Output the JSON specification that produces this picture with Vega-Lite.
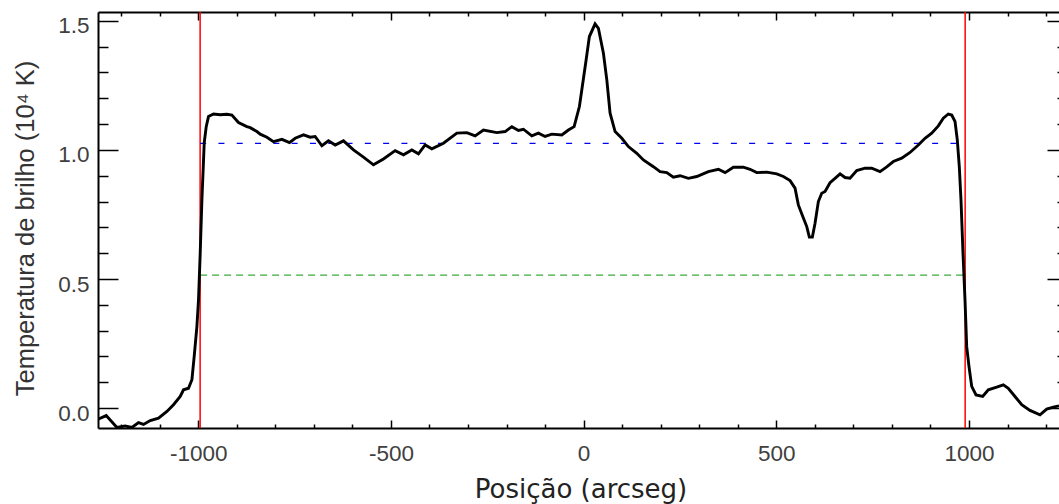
{
  "$schema": "https://vega.github.io/schema/vega-lite/v6.json",
  "usermeta": {"embedOptions": {"actions": false}},
  "width": 961,
  "height": 416,
  "autosize": {"type": "none"},
  "padding": {"left": 98, "top": 12, "right": 0, "bottom": 76},
  "background": "white",
  "config": {"view": {"stroke": null}, "axis": {"grid": false}},
  "datasets": {
    "perfil": [
      {"posicao": -1260, "tb": -0.043},
      {"posicao": -1238.7, "tb": -0.029},
      {"posicao": -1210.9, "tb": -0.075},
      {"posicao": -1189.4, "tb": -0.069},
      {"posicao": -1172, "tb": -0.075},
      {"posicao": -1154.9, "tb": -0.056},
      {"posicao": -1141.9, "tb": -0.063},
      {"posicao": -1124.5, "tb": -0.048},
      {"posicao": -1103, "tb": -0.039},
      {"posicao": -1081.2, "tb": -0.013},
      {"posicao": -1064.1, "tb": 0.013},
      {"posicao": -1046.7, "tb": 0.045},
      {"posicao": -1038.1, "tb": 0.071},
      {"posicao": -1025.2, "tb": 0.077},
      {"posicao": -1016.3, "tb": 0.11},
      {"posicao": -1010.4, "tb": 0.2},
      {"posicao": -1003.4, "tb": 0.316},
      {"posicao": -999.2, "tb": 0.419},
      {"posicao": -994.8, "tb": 0.6},
      {"posicao": -990.4, "tb": 0.806},
      {"posicao": -984.4, "tb": 1.027},
      {"posicao": -979.2, "tb": 1.09},
      {"posicao": -973.3, "tb": 1.129},
      {"posicao": -960.3, "tb": 1.139},
      {"posicao": -942.9, "tb": 1.136},
      {"posicao": -925.6, "tb": 1.138},
      {"posicao": -912.6, "tb": 1.135},
      {"posicao": -895.5, "tb": 1.106},
      {"posicao": -873.7, "tb": 1.09},
      {"posicao": -865.1, "tb": 1.086},
      {"posicao": -847.7, "tb": 1.071},
      {"posicao": -839.2, "tb": 1.061},
      {"posicao": -821.8, "tb": 1.049},
      {"posicao": -804.7, "tb": 1.032},
      {"posicao": -782.9, "tb": 1.041},
      {"posicao": -763.2, "tb": 1.028},
      {"posicao": -748.4, "tb": 1.045},
      {"posicao": -726.8, "tb": 1.058},
      {"posicao": -709.5, "tb": 1.049},
      {"posicao": -696.5, "tb": 1.052},
      {"posicao": -679.1, "tb": 1.016},
      {"posicao": -662, "tb": 1.035},
      {"posicao": -644.6, "tb": 1.019},
      {"posicao": -623.1, "tb": 1.035},
      {"posicao": -597.1, "tb": 1.0},
      {"posicao": -571.2, "tb": 0.972},
      {"posicao": -545.3, "tb": 0.942},
      {"posicao": -519.3, "tb": 0.965},
      {"posicao": -489, "tb": 0.997},
      {"posicao": -467.4, "tb": 0.981},
      {"posicao": -445.7, "tb": 1.0},
      {"posicao": -428.5, "tb": 0.985},
      {"posicao": -411.2, "tb": 1.019},
      {"posicao": -393.8, "tb": 1.004},
      {"posicao": -363.7, "tb": 1.026},
      {"posicao": -328.9, "tb": 1.065},
      {"posicao": -303, "tb": 1.067},
      {"posicao": -281.5, "tb": 1.054},
      {"posicao": -259.9, "tb": 1.077},
      {"posicao": -225.2, "tb": 1.067},
      {"posicao": -203.6, "tb": 1.071},
      {"posicao": -186.3, "tb": 1.09},
      {"posicao": -169.1, "tb": 1.075},
      {"posicao": -156.2, "tb": 1.08},
      {"posicao": -134.4, "tb": 1.054},
      {"posicao": -117.3, "tb": 1.065},
      {"posicao": -99.9, "tb": 1.052},
      {"posicao": -82.5, "tb": 1.061},
      {"posicao": -56.5, "tb": 1.058},
      {"posicao": -39.4, "tb": 1.077},
      {"posicao": -24.6, "tb": 1.09},
      {"posicao": -10.9, "tb": 1.168},
      {"posicao": -4.7, "tb": 1.232},
      {"posicao": 6.5, "tb": 1.348},
      {"posicao": 15, "tb": 1.439},
      {"posicao": 29.8, "tb": 1.488},
      {"posicao": 38.4, "tb": 1.471},
      {"posicao": 51.4, "tb": 1.374},
      {"posicao": 60.2, "tb": 1.271},
      {"posicao": 68.7, "tb": 1.142},
      {"posicao": 81.7, "tb": 1.071},
      {"posicao": 99.1, "tb": 1.045},
      {"posicao": 116.2, "tb": 1.013},
      {"posicao": 138, "tb": 0.987},
      {"posicao": 155.1, "tb": 0.961},
      {"posicao": 181.1, "tb": 0.935},
      {"posicao": 198.4, "tb": 0.916},
      {"posicao": 215.8, "tb": 0.912},
      {"posicao": 232.9, "tb": 0.894},
      {"posicao": 250.3, "tb": 0.9},
      {"posicao": 271.9, "tb": 0.89},
      {"posicao": 293.6, "tb": 0.897},
      {"posicao": 323.7, "tb": 0.916},
      {"posicao": 349.7, "tb": 0.925},
      {"posicao": 367.1, "tb": 0.912},
      {"posicao": 388.6, "tb": 0.933},
      {"posicao": 414.5, "tb": 0.933},
      {"posicao": 431.9, "tb": 0.925},
      {"posicao": 449.3, "tb": 0.912},
      {"posicao": 475.2, "tb": 0.914},
      {"posicao": 501.2, "tb": 0.907},
      {"posicao": 518.3, "tb": 0.897},
      {"posicao": 535.7, "tb": 0.881},
      {"posicao": 548.6, "tb": 0.852},
      {"posicao": 557.2, "tb": 0.787},
      {"posicao": 570.2, "tb": 0.736},
      {"posicao": 579, "tb": 0.703},
      {"posicao": 585.7, "tb": 0.662},
      {"posicao": 593.5, "tb": 0.662},
      {"posicao": 600.5, "tb": 0.716},
      {"posicao": 609.1, "tb": 0.8},
      {"posicao": 617.9, "tb": 0.832},
      {"posicao": 626.5, "tb": 0.839},
      {"posicao": 639.4, "tb": 0.873},
      {"posicao": 652.4, "tb": 0.89},
      {"posicao": 665.4, "tb": 0.907},
      {"posicao": 678.3, "tb": 0.893},
      {"posicao": 691.3, "tb": 0.89},
      {"posicao": 708.7, "tb": 0.92},
      {"posicao": 730.2, "tb": 0.929},
      {"posicao": 747.6, "tb": 0.929},
      {"posicao": 769.1, "tb": 0.916},
      {"posicao": 786.5, "tb": 0.934},
      {"posicao": 803.6, "tb": 0.955},
      {"posicao": 825.4, "tb": 0.968},
      {"posicao": 847, "tb": 0.99},
      {"posicao": 868.5, "tb": 1.019},
      {"posicao": 885.9, "tb": 1.045},
      {"posicao": 903.2, "tb": 1.065},
      {"posicao": 920.4, "tb": 1.093},
      {"posicao": 933.3, "tb": 1.123},
      {"posicao": 946.3, "tb": 1.139},
      {"posicao": 955.1, "tb": 1.135},
      {"posicao": 963.7, "tb": 1.11},
      {"posicao": 969.6, "tb": 1.039},
      {"posicao": 974.8, "tb": 0.935},
      {"posicao": 979.2, "tb": 0.806},
      {"posicao": 984.4, "tb": 0.6},
      {"posicao": 989.6, "tb": 0.419},
      {"posicao": 994, "tb": 0.238},
      {"posicao": 1000, "tb": 0.161},
      {"posicao": 1007, "tb": 0.084},
      {"posicao": 1018.2, "tb": 0.051},
      {"posicao": 1035.5, "tb": 0.045},
      {"posicao": 1050.1, "tb": 0.071},
      {"posicao": 1071.9, "tb": 0.081},
      {"posicao": 1089, "tb": 0.09},
      {"posicao": 1101.9, "tb": 0.077},
      {"posicao": 1119.3, "tb": 0.045},
      {"posicao": 1136.7, "tb": 0.013},
      {"posicao": 1158.2, "tb": -0.009},
      {"posicao": 1184.2, "tb": -0.026},
      {"posicao": 1201.6, "tb": -0.004},
      {"posicao": 1218.7, "tb": 0.004},
      {"posicao": 1233.5, "tb": 0.009}
    ],
    "niveis": [
      {"nivel": "media", "inicio": -995, "fim": 990, "valor": 1.025},
      {"nivel": "metade", "inicio": -995, "fim": 990, "valor": 0.515}
    ],
    "limbo": [
      {"posicao": -995},
      {"posicao": 990}
    ]
  },
  "layer": [
    {
      "data": {"name": "limbo"},
      "mark": {"type": "rule", "color": "#ff0000", "strokeWidth": 1.5, "clip": true},
      "encoding": {
        "x": {
          "field": "posicao", "type": "quantitative",
          "scale": {"domain": [-1260, 1233.5], "nice": false, "zero": false},
          "axis": null
        }
      }
    },
    {
      "data": {"name": "niveis"},
      "transform": [{"filter": "datum.nivel === 'metade'"}],
      "mark": {"type": "rule", "color": "#3aaa3a", "strokeWidth": 1.3, "strokeDash": [7, 5], "clip": true},
      "encoding": {
        "x": {"field": "inicio", "type": "quantitative", "scale": {"domain": [-1260, 1233.5], "nice": false, "zero": false}, "axis": null},
        "x2": {"field": "fim"},
        "y": {"field": "valor", "type": "quantitative", "scale": {"domain": [-0.077, 1.534], "nice": false, "zero": false}, "axis": null}
      }
    },
    {
      "data": {"name": "niveis"},
      "transform": [{"filter": "datum.nivel === 'media'"}],
      "mark": {"type": "rule", "color": "#0000ee", "strokeWidth": 1.3, "strokeDash": [6, 12.3], "clip": true},
      "encoding": {
        "x": {
          "field": "inicio", "type": "quantitative",
          "scale": {"domain": [-1260, 1233.5], "nice": false, "zero": false},
          "axis": {
            "orient": "top", "title": null, "labels": false,
            "values": [-1200, -1100, -1000, -900, -800, -700, -600, -500, -400, -300, -200, -100, 0, 100, 200, 300, 400, 500, 600, 700, 800, 900, 1000, 1100, 1200],
            "tickSize": {"condition": {"test": "datum.value % 500 === 0", "value": -8}, "value": -4},
            "tickColor": "black", "tickWidth": 1.5,
            "domainColor": "black", "domainWidth": 2
          }
        },
        "x2": {"field": "fim"},
        "y": {
          "field": "valor", "type": "quantitative",
          "scale": {"domain": [-0.077, 1.534], "nice": false, "zero": false},
          "axis": {
            "orient": "right", "title": null, "labels": false, "offset": 8,
            "values": [0, 0.1, 0.2, 0.3, 0.4, 0.5, 0.6, 0.7, 0.8, 0.9, 1.0, 1.1, 1.2, 1.3, 1.4, 1.5],
            "tickSize": {"condition": {"test": "abs(datum.value * 2 - round(datum.value * 2)) < 0.001", "value": -20}, "value": -10},
            "tickColor": "black", "tickWidth": 1.5,
            "domainColor": "black", "domainWidth": 2
          }
        }
      }
    },
    {
      "data": {"name": "perfil"},
      "mark": {"type": "line", "color": "black", "strokeWidth": 2.9, "clip": true},
      "encoding": {
        "x": {
          "field": "posicao", "type": "quantitative",
          "scale": {"domain": [-1260, 1233.5], "nice": false, "zero": false},
          "axis": {
            "orient": "bottom",
            "title": "Posição (arcseg)",
            "values": [-1200, -1100, -1000, -900, -800, -700, -600, -500, -400, -300, -200, -100, 0, 100, 200, 300, 400, 500, 600, 700, 800, 900, 1000, 1100, 1200],
            "labelExpr": "datum.value % 500 === 0 ? toString(datum.value) : ''",
            "tickSize": {"condition": {"test": "datum.value % 500 === 0", "value": -8}, "value": -4},
            "tickColor": "black", "tickWidth": 1.5,
            "domainColor": "black", "domainWidth": 2,
            "labelFont": "Liberation Sans", "labelFontSize": 22.5, "labelColor": "#404040",
            "labelPadding": 22.7, "labelFlush": false, "labelOverlap": false,
            "titleFont": "DejaVu Sans", "titleFontSize": 26, "titleFontWeight": "normal", "titleColor": "#222222",
            "titleX": 482.5, "titleY": 69.7, "titleBaseline": "alphabetic", "titleAlign": "center", "titleAnchor": null
          }
        },
        "y": {
          "field": "tb", "type": "quantitative",
          "scale": {"domain": [-0.077, 1.534], "nice": false, "zero": false},
          "axis": {
            "orient": "left",
            "title": "Temperatura de brilho (10⁴ K)",
            "values": [0, 0.1, 0.2, 0.3, 0.4, 0.5, 0.6, 0.7, 0.8, 0.9, 1.0, 1.1, 1.2, 1.3, 1.4, 1.5],
            "labelExpr": "abs(datum.value * 2 - round(datum.value * 2)) < 0.001 ? format(datum.value, '.1f') : ''",
            "tickSize": {"condition": {"test": "abs(datum.value * 2 - round(datum.value * 2)) < 0.001", "value": -20}, "value": -10},
            "tickColor": "black", "tickWidth": 1.5,
            "domainColor": "black", "domainWidth": 2,
            "labelFont": "Liberation Sans", "labelFontSize": 22.5, "labelColor": "#404040",
            "labelPadding": 29, "labelOffset": 5, "labelFlush": false, "labelOverlap": false,
            "titleFont": "Liberation Sans", "titleFontSize": 25.5, "titleFontWeight": "normal", "titleColor": "#333333",
            "titleX": -65, "titleY": 216, "titleAngle": -90, "titleBaseline": "alphabetic", "titleAlign": "center", "titleAnchor": null
          }
        }
      }
    }
  ],
  "resolve": {"axis": {"x": "independent", "y": "independent"}}
}
